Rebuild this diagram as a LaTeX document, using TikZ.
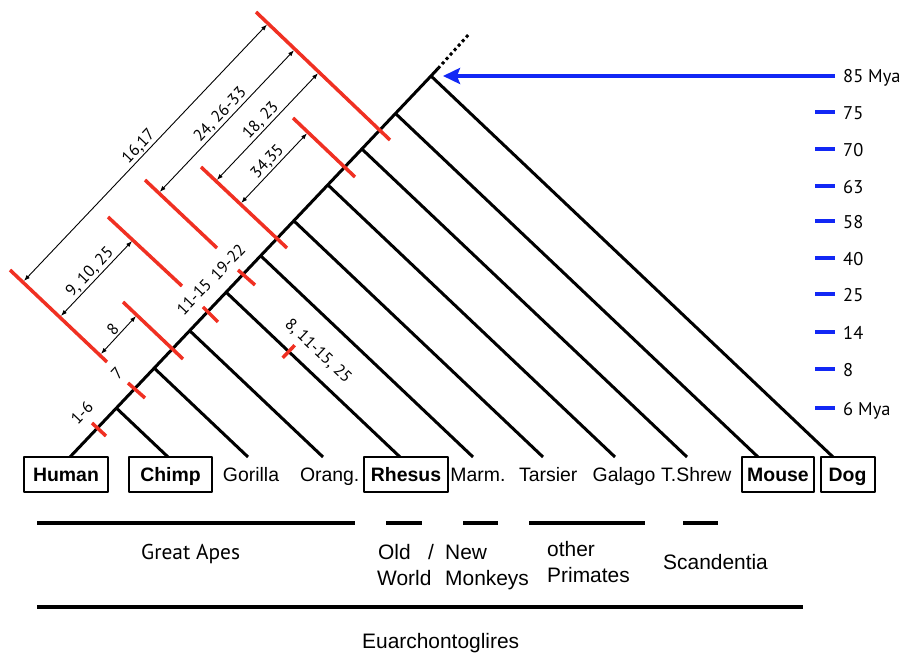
\documentclass[tikz,border=0pt]{standalone}
\usepackage{fontspec}
\setmainfont{Liberation Sans}
\newfontfamily\myriadlike{PT Sans}
\usetikzlibrary{arrows.meta,calc}
\definecolor{barred}{RGB}{240,48,34}
\definecolor{myablue}{RGB}{18,40,245}
\begin{document}
\begin{tikzpicture}[>={Latex[length=6bp,width=4.5bp]},line join=bevel,
  brline/.style={line width=3bp,black},
  redbar/.style={line width=3.5bp,barred},
  spanarrow/.style={<->,line width=0.9bp,shorten <=1.5bp,shorten >=1.5bp},
  bluetick/.style={line width=4bp,myablue},
  grpline/.style={line width=4bp},
  leafbox/.style={draw,line width=2bp,inner xsep=0pt,minimum height=35bp,text height=14bp,text depth=0bp,font=\fontsize{19.5}{22}\selectfont\bfseries},
  leaf/.style={inner sep=0pt,anchor=base,font=\fontsize{19.5}{22}\selectfont},
  grplab/.style={inner sep=0pt,anchor=base west,font=\fontsize{21}{24}\selectfont},
  numlab/.style={inner sep=1.5pt,font=\myriadlike\fontsize{16.5}{18}\selectfont},
  scalelab/.style={inner sep=0pt,anchor=base west,font=\myriadlike\fontsize{18.5}{20}\selectfont},
]
  \useasboundingbox (0,0) rectangle (905bp,654bp);
%%
  % Leaf tips
  \coordinate (thuman) at (70bp,197bp);
  \coordinate (tchimp) at (168bp,197bp);
  \coordinate (tgorilla) at (248bp,197bp);
  \coordinate (torang) at (323bp,197bp);
  \coordinate (trhesus) at (400bp,197bp);
  \coordinate (tmarm) at (473bp,197bp);
  \coordinate (ttarsier) at (543bp,197bp);
  \coordinate (tgalago) at (615bp,197bp);
  \coordinate (tshrew) at (687bp,197bp);
  \coordinate (tmouse) at (758bp,197bp);
  \coordinate (tdog) at (833bp,197bp);
  % Stem nodes
  \coordinate (nchimp) at (116.4bp,245.9bp);
  \coordinate (ngorilla) at (154.2bp,285.9bp);
  \coordinate (norang) at (189.7bp,323.3bp);
  \coordinate (nrhesus) at (226.1bp,361.8bp);
  \coordinate (nmarm) at (260.7bp,398.2bp);
  \coordinate (ntarsier) at (293.8bp,433.2bp);
  \coordinate (ngalago) at (327.9bp,469.1bp);
  \coordinate (nshrew) at (361.9bp,505.0bp);
  \coordinate (nmouse) at (395.5bp,540.5bp);
  \coordinate (root) at (431bp,578bp);
  \coordinate (stemtop) at (438bp,585.5bp);
  \coordinate (dottop) at (470bp,621bp);
  % Edge: stem
  \draw[brline] (thuman) -- (root) -- (stemtop);
  \draw[brline,dash pattern=on 3bp off 3bp] (stemtop) -- (dottop);
  % Edge: branches
  \draw[brline] (nchimp) -- (tchimp);
  \draw[brline] (ngorilla) -- (tgorilla);
  \draw[brline] (norang) -- (torang);
  \draw[brline] (nrhesus) -- (trhesus);
  \draw[brline] (nmarm) -- (tmarm);
  \draw[brline] (ntarsier) -- (ttarsier);
  \draw[brline] (ngalago) -- (tgalago);
  \draw[brline] (nshrew) -- (tshrew);
  \draw[brline] (nmouse) -- (tmouse);
  \draw[brline] (root) -- (tdog);
  % Red ticks on the stem
  \draw[redbar] (92bp,231bp) -- (106bp,218bp);
  \draw[redbar] (128bp,271bp) -- (145bp,256bp);
  \draw[redbar] (203bp,347bp) -- (218bp,332bp);
  \draw[redbar] (238bp,384bp) -- (255bp,369bp);
  \node[numlab,rotate=46.5] (l16) at (82bp,241bp) {1-6};
  \node[numlab,rotate=46.5] (l7) at (117bp,281bp) {7};
  \node[numlab,rotate=46.5] (l1115) at (194bp,357bp) {11-15};
  \node[numlab,rotate=46.5] (l1922) at (228bp,392bp) {19-22};
  % Red tick on the Rhesus branch
  \coordinate (rtick) at ($(nrhesus)!0.36!(trhesus)$);
  \draw[redbar] ($(rtick)+(-6bp,-6.3bp)$) -- ($(rtick)+(6bp,6.3bp)$);
  \node[numlab,rotate=-43.5] (l8rh) at (318bp,303bp) {8, 11-15, 25};
  % Red bars
  \draw[redbar] (256bp,642bp) -- (390bp,514bp);
  \draw[redbar] (293bp,536bp) -- (355bp,477bp);
  \draw[redbar] (201bp,487bp) -- (287bp,406bp);
  \draw[redbar] (145bp,474bp) -- (217bp,406bp);
  \draw[redbar] (108bp,437bp) -- (182bp,368bp);
  \draw[redbar] (10bp,384bp) -- (107bp,292bp);
  \draw[redbar] (123bp,352bp) -- (183bp,295bp);
  % Spans between bars
  \coordinate (a1lo) at (23bp,372bp);
  \coordinate (a1hi) at (268bp,630.5bp);
  \coordinate (a2lo) at (158.7bp,461bp);
  \coordinate (a2hi) at (295bp,604.8bp);
  \coordinate (a3lo) at (215.9bp,473bp);
  \coordinate (a3hi) at (319bp,581.8bp);
  \coordinate (a4lo) at (240.2bp,450bp);
  \coordinate (a4hi) at (308bp,521.7bp);
  \coordinate (a5lo) at (60bp,337bp);
  \coordinate (a5hi) at (133bp,414bp);
  \coordinate (a6lo) at (100bp,299bp);
  \coordinate (a6hi) at (137bp,339bp);
  \draw[spanarrow] (a1lo) -- node[numlab,sloped,above] (l1617) {16,17} (a1hi);
  \draw[spanarrow] (a2lo) -- node[numlab,sloped,above] (l2433) {24, 26-33} (a2hi);
  \draw[spanarrow] (a3lo) -- node[numlab,sloped,above] (l1823) {18, 23} (a3hi);
  \draw[spanarrow] (a4lo) -- node[numlab,sloped,above] (l3435) {34,35} (a4hi);
  \draw[spanarrow] (a5lo) -- node[numlab,sloped,above] (l91025) {9, 10, 25} (a5hi);
  \draw[spanarrow] (a6lo) -- node[numlab,sloped,above] (l8) {8} (a6hi);
  % Time scale
  \coordinate (arrtail) at (835bp,578bp);
  \coordinate (arrtip) at (443bp,578bp);
  \draw[myablue,line width=4bp,-{Stealth[length=17bp,width=16bp,inset=3bp]}] (arrtail) -- (arrtip);
  \node[scalelab] (my85) at (843bp,571bp) {85 Mya};
  \draw[bluetick] (815bp,542.3bp) -- (835bp,542.3bp);
  \node[scalelab] (my75) at (843bp,534.8bp) {75};
  \draw[bluetick] (815bp,504.7bp) -- (835bp,504.7bp);
  \node[scalelab] (my70) at (843bp,497.2bp) {70};
  \draw[bluetick] (815bp,468bp) -- (835bp,468bp);
  \node[scalelab] (my63) at (843bp,460.5bp) {63};
  \draw[bluetick] (815bp,433bp) -- (835bp,433bp);
  \node[scalelab] (my58) at (843bp,425.5bp) {58};
  \draw[bluetick] (815bp,396.3bp) -- (835bp,396.3bp);
  \node[scalelab] (my40) at (843bp,388.8bp) {40};
  \draw[bluetick] (815bp,360bp) -- (835bp,360bp);
  \node[scalelab] (my25) at (843bp,352.5bp) {25};
  \draw[bluetick] (815bp,322.3bp) -- (835bp,322.3bp);
  \node[scalelab] (my14) at (843bp,314.8bp) {14};
  \draw[bluetick] (815bp,284.7bp) -- (835bp,284.7bp);
  \node[scalelab] (my8) at (843bp,277.2bp) {8};
  \draw[bluetick] (815bp,245.7bp) -- (835bp,245.7bp);
  \node[scalelab] (my6) at (843bp,238.2bp) {6 Mya};
  % Node: leaves
  \node[leafbox,minimum width=84bp] (human) at (66bp,179bp) {Human};
  \node[leafbox,minimum width=83bp] (chimp) at (170.5bp,179bp) {Chimp};
  \node[leaf] (gorilla) at (251bp,172bp) {Gorilla};
  \node[leaf] (orang) at (329.7bp,172bp) {Orang.};
  \node[leafbox,minimum width=84bp] (rhesus) at (406bp,179bp) {Rhesus};
  \node[leaf] (marm) at (478bp,172bp) {Marm.};
  \node[leaf] (tarsier) at (548.3bp,172bp) {Tarsier};
  \node[leaf] (galago) at (624bp,172bp) {Galago};
  \node[leaf] (shrew) at (696.3bp,172bp) {T.Shrew};
  \node[leafbox,minimum width=72bp] (mouse) at (778bp,179bp) {Mouse};
  \node[leafbox,minimum width=54bp] (dog) at (847.5bp,179bp) {Dog};
  % Groups
  \draw[grpline] (37bp,131bp) -- (355bp,131bp);
  \draw[grpline] (386bp,131bp) -- (422bp,131bp);
  \draw[grpline] (463bp,131bp) -- (498bp,131bp);
  \draw[grpline] (529bp,131bp) -- (645bp,131bp);
  \draw[grpline] (683bp,131bp) -- (718bp,131bp);
  \draw[grpline] (37bp,47bp) -- (803bp,47bp);
  \node[grplab,font=\myriadlike\fontsize{21.5}{24}\selectfont] (apes) at (141bp,94bp) {Great Apes};
  \node[grplab] (old) at (378bp,94bp) {Old};
  \node[grplab] (slash) at (428bp,94bp) {/};
  \node[grplab] (new) at (445bp,94bp) {New};
  \node[grplab] (world) at (377bp,68bp) {World};
  \node[grplab] (monkeys) at (445bp,68bp) {Monkeys};
  \node[grplab] (other) at (547bp,97bp) {other};
  \node[grplab] (primates) at (547bp,71bp) {Primates};
  \node[grplab] (scand) at (663bp,84bp) {Scandentia};
  \node[grplab] (euarch) at (362bp,6bp) {Euarchontoglires};
%
\end{tikzpicture}
\end{document}
